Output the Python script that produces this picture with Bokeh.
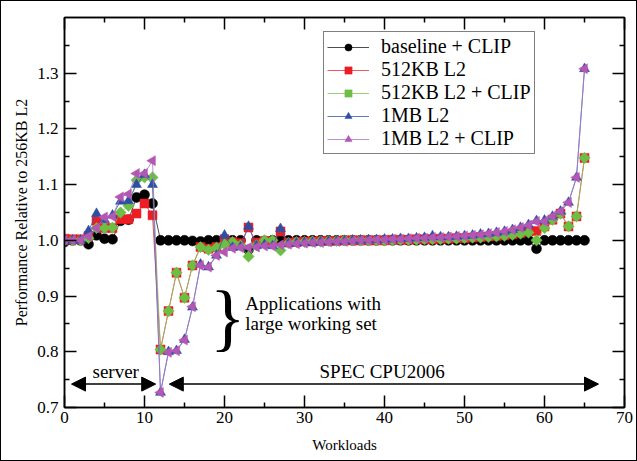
from bokeh.plotting import figure
from bokeh.models import (Legend, LegendItem, LinearAxis, Range1d, Arrow, NormalHead,
                          Label, FixedTicker, ColumnDataSource)
from bokeh.embed import file_html
from bokeh.resources import INLINE
import math

# ---------------- data ----------------
workloads = list(range(66))

baseline_clip = [0.997, 1.0, 1.0, 0.993, 1.009, 1.003, 1.002, 1.035, 1.037, 1.077, 1.082, 1.066,
                 1.0, 1.0, 1.0, 1.0, 0.999, 0.998, 1.0, 1.0, 1.0, 1.0, 1.0, 0.983, 1.0, 0.999,
                 1.0, 1.0, 1.0, 1.0, 1.0, 1.0, 1.0, 1.0, 1.0, 1.0, 1.0, 1.0, 1.0, 1.0,
                 1.0, 1.0, 1.0, 1.0, 1.0, 1.0, 1.0, 1.0, 1.0, 1.0, 1.0, 1.0, 1.0, 1.0,
                 1.0, 1.0, 1.0, 1.0, 1.0, 0.985, 1.0, 1.0, 1.0, 1.0, 1.0, 1.0]

l2_512 = [1.003, 1.002, 1.002, 1.008, 1.035, 1.022, 1.022, 1.038, 1.038, 1.048, 1.066, 1.045,
          0.804, 0.873, 0.942, 0.897, 0.955, 0.988, 0.985, 0.988, 1.002, 0.997, 0.995, 1.023,
          0.996, 0.999, 0.998, 1.016, 0.996, 0.997, 0.998, 0.998, 0.999, 0.999, 0.999, 1.0,
          1.0, 1.0, 1.0, 1.0, 1.0, 1.001, 1.001, 1.001, 1.002, 1.002, 1.002, 1.003, 1.003,
          1.004, 1.004, 1.005, 1.006, 1.007, 1.008, 1.009, 1.011, 1.013, 1.016, 1.017, 1.025,
          1.037, 1.048, 1.025, 1.043, 1.148]

l2_512_clip = [1.0, 1.0, 1.0, 1.004, 1.022, 1.022, 1.023, 1.05, 1.062, 1.108, 1.113, 1.113,
               0.804, 0.873, 0.942, 0.897, 0.955, 0.988, 0.983, 0.987, 0.993, 0.997, 0.991, 0.971,
               0.991, 1.0, 1.0, 0.982, 0.995, 0.997, 0.997, 0.998, 0.998, 0.999, 0.999, 1.0,
               1.0, 1.0, 1.0, 1.0, 1.0, 1.0, 1.001, 1.001, 1.001, 1.002, 1.002, 1.002, 1.003,
               1.003, 1.004, 1.005, 1.005, 1.006, 1.007, 1.008, 1.01, 1.012, 1.014, 1.0, 1.022,
               1.037, 1.048, 1.025, 1.043, 1.148]

l2_1mb = [1.003, 1.0, 1.0, 1.017, 1.048, 1.037, 1.045, 1.07, 1.071, 1.1, 1.118, 1.1,
          0.727, 0.8, 0.802, 0.822, 0.88, 0.957, 0.952, 0.973, 1.009, 0.987, 0.988, 1.025,
          0.99, 0.992, 0.99, 1.021, 0.994, 0.995, 0.996, 0.996, 0.997, 0.998, 0.998, 0.999,
          1.0, 1.0, 1.001, 1.001, 1.002, 1.002, 1.003, 1.003, 1.004, 1.005, 1.008, 1.006,
          1.006, 1.007, 1.008, 1.009, 1.011, 1.012, 1.014, 1.016, 1.019, 1.023, 1.028, 1.035,
          1.036, 1.043, 1.052, 1.068, 1.113, 1.308]

l2_1mb_clip = [1.0, 1.0, 1.0, 1.007, 1.022, 1.042, 1.043, 1.078, 1.083, 1.12, 1.12, 1.143,
               0.727, 0.799, 0.802, 0.821, 0.881, 0.955, 0.952, 0.973, 0.979, 0.986, 0.987, 0.987,
               0.988, 0.99, 0.99, 0.992, 0.993, 0.994, 0.995, 0.996, 0.996, 0.997, 0.998, 0.998,
               0.999, 1.0, 1.0, 1.001, 1.001, 1.002, 1.002, 1.003, 1.004, 1.004, 1.005, 1.005,
               1.006, 1.007, 1.008, 1.009, 1.01, 1.012, 1.014, 1.016, 1.019, 1.023, 1.027, 1.034,
               1.034, 1.043, 1.052, 1.068, 1.113, 1.308]

series_names = ["baseline + CLIP", "512KB L2", "512KB L2 + CLIP", "1MB L2", "1MB L2 + CLIP"]
x_ticks = [0, 10, 20, 30, 40, 50, 60, 70]
y_ticks = [0.7, 0.8, 0.9, 1.0, 1.1, 1.2, 1.3]

# annotation positions (data coords)
server_arrow = [0.875, 11.4]
spec_arrow = [13.1, 66.75]
arrow_y = 0.742

FONT = "Liberation Serif"

p = figure(width=637, height=461, output_backend="svg", toolbar_location=None,
           x_range=Range1d(0, 70), y_range=Range1d(0.7, 1.4),
           min_border_left=63, min_border_right=14, min_border_top=16, min_border_bottom=55,
           background_fill_color="white", border_fill_color="white")
p.styles = {"border": "1px solid black", "box-sizing": "border-box"}
p.grid.visible = False
p.outline_line_color = "black"
p.outline_line_width = 1.5

def style_axis(ax, labels=True):
    ax.axis_line_width = 1.5
    ax.major_tick_line_width = 1.5
    ax.minor_tick_line_width = 1.5
    ax.major_tick_in = 12
    ax.major_tick_out = 0
    ax.minor_tick_in = 5
    ax.minor_tick_out = 0
    ax.major_label_text_font = FONT
    ax.major_label_text_font_size = "17px"
    ax.major_label_text_color = "black"
    ax.axis_label_text_font = FONT
    ax.axis_label_text_font_style = "normal"
    ax.axis_label_text_color = "black"
    if not labels:
        ax.major_label_text_font_size = "0px"
        ax.major_label_text_color = None

xax = p.xaxis[0]
yax = p.yaxis[0]
style_axis(xax)
style_axis(yax)
xax.ticker = FixedTicker(ticks=x_ticks, minor_ticks=[5, 15, 25, 35, 45, 55, 65])
yax.ticker = FixedTicker(ticks=y_ticks, minor_ticks=[0.75, 0.85, 0.95, 1.05, 1.15, 1.25, 1.35])
xax.axis_label = "Workloads"
xax.axis_label_text_font_size = "15px"
xax.axis_label_standoff = 11
xax.major_label_standoff = 4
yax.axis_label = "Performance Relative to 256KB L2"
yax.axis_label_text_font_size = "16px"
yax.axis_label_standoff = 4
yax.major_label_standoff = 6
yax.major_label_overrides = {0.7: "0.7", 0.8: "0.8", 0.9: "0.9", 1.0: "1.0", 1.1: "1.1",
                             1.2: "1.2", 1.3: "1.3"}

rax = LinearAxis(ticker=FixedTicker(ticks=y_ticks, minor_ticks=[0.75, 0.85, 0.95, 1.05, 1.15, 1.25, 1.35]))
style_axis(rax, labels=False)
p.add_layout(rax, "right")
tax = LinearAxis(ticker=FixedTicker(ticks=x_ticks, minor_ticks=[5, 15, 25, 35, 45, 55, 65]))
style_axis(tax, labels=False)
p.add_layout(tax, "above")

specs = [
    (baseline_clip, "#222222", "black", "circle", 0, 10),
    (l2_512, "#e8303a", "#ee1c24", "square", 0, 9),
    (l2_512_clip, "#8cc152", "#6cbf45", "square", math.pi / 4, 8),
    (l2_1mb, "#3a5aa8", "#2d4ea3", "triangle", 0, 10),
    (l2_1mb_clip, "#a878c8", "#b457b4", "triangle", math.pi / 2, 10),
]

items = []
for name, (ys, lc, mc, marker, ang, sz) in zip(series_names, specs):
    src = ColumnDataSource(dict(x=workloads, y=ys))
    lr = p.line("x", "y", source=src, line_color=lc, line_width=1, line_alpha=0.8)
    sr = p.scatter("x", "y", source=src, marker=marker, angle=ang, size=sz,
                   fill_color=mc, line_color=mc, line_width=0.5)
    items.append(LegendItem(label=name, renderers=[lr, sr]))

legend = Legend(items=items, location=(259, 253), margin=0, padding=3, spacing=0,
                border_line_color="black", border_line_width=1.5,
                label_text_font=FONT, label_text_font_size="20px", label_text_color="black",
                glyph_width=42, glyph_height=18, label_height=18, label_standoff=12,
                background_fill_alpha=1.0)
p.add_layout(legend, "center")

# arrows
for xs in (server_arrow, spec_arrow):
    p.add_layout(Arrow(start=NormalHead(size=14, fill_color="black", line_color="black"),
                       end=NormalHead(size=14, fill_color="black", line_color="black"),
                       x_start=xs[0], y_start=arrow_y, x_end=xs[1], y_end=arrow_y,
                       line_width=1.5, line_color="black"))

def label(x, y, text, size="19px", align="left", baseline="middle"):
    p.add_layout(Label(x=x, y=y, text=text, text_font=FONT, text_font_size=size,
                       text_align=align, text_baseline=baseline, text_color="black"))

label(6.4, 0.745, "server", align="center", baseline="bottom")
label(39.7, 0.745, "SPEC CPU2006", align="center", baseline="bottom")
label(22.6, 0.886, "Applications with")
label(22.6, 0.850, "large working set")
label(20.4, 0.862, "}", size="74px", align="center", baseline="middle")

open("out.html", "w").write(file_html(p, INLINE))
